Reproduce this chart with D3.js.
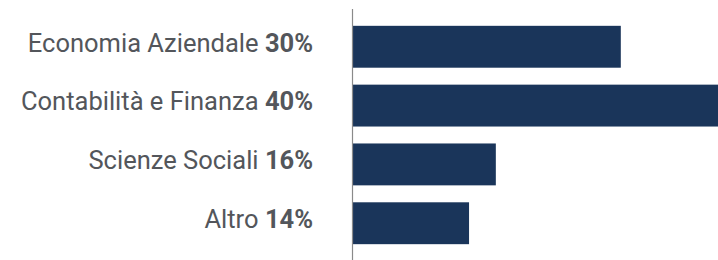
<!DOCTYPE html>
<html><head><meta charset="utf-8">
<script src="https://cdn.jsdelivr.net/npm/d3@7"></script>
<style>html,body{margin:0;padding:0;background:#fff;}svg{display:block;}</style>
</head><body>
<script>
const categories = ["Economia Aziendale", "Contabilità e Finanza", "Scienze Sociali", "Altro"];
const barValues = [30, 41, 16, 13];
const pctLabels = ["30%", "40%", "16%", "14%"];

const W = 718, H = 260;
const svg = d3.select("body").append("svg").attr("width", W).attr("height", H);

const x0 = 353;
const x = d3.scaleLinear().domain([0, 41]).range([x0, x0 + 366]);
const y = d3.scaleBand().domain(categories).range([17, 253]).paddingInner(0.288).paddingOuter(0.15);

svg.append("g").selectAll("rect").data(categories).join("rect")
  .attr("x", x(0))
  .attr("y", d => y(d))
  .attr("width", (d, i) => x(barValues[i]) - x(0))
  .attr("height", y.bandwidth())
  .attr("fill", "#1a355a");

svg.append("line").attr("x1", 352.5).attr("x2", 352.5).attr("y1", 9).attr("y2", H)
  .attr("stroke", "#8a8a8a").attr("stroke-width", 1.2);

const t = svg.append("g").selectAll("text").data(categories).join("text")
  .attr("x", 313)
  .attr("y", d => y(d) + y.bandwidth() / 2 + 4.8)
  .attr("text-anchor", "end")
  .attr("font-family", "Roboto, sans-serif")
  .attr("font-size", 25.5)
  .attr("fill", "#53565b");
t.append("tspan").text(d => d + " ");
t.append("tspan").attr("font-weight", "bold").text((d, i) => pctLabels[i]);
</script>
</body></html>
